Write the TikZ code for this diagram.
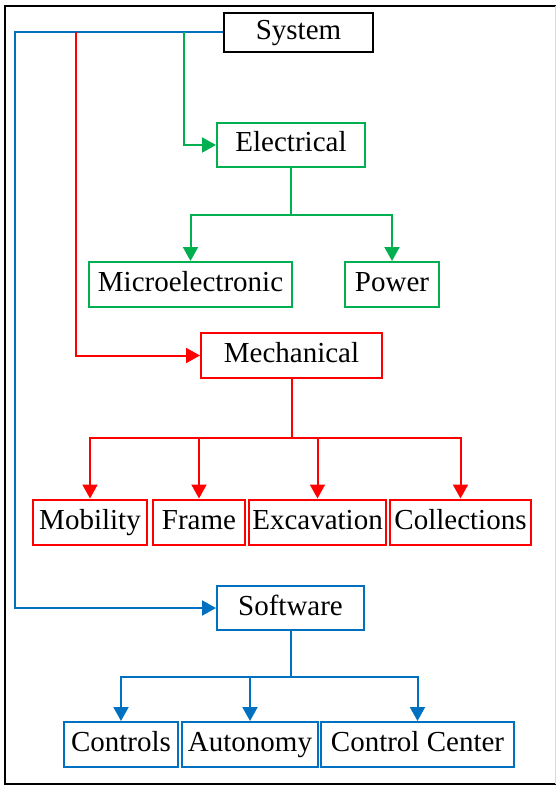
\documentclass[tikz,border=0pt]{standalone}
\usepackage{fontspec}
\newfontfamily\timesfont{Liberation Serif}
\usetikzlibrary{arrows.meta}
\definecolor{grn}{RGB}{0,176,80}
\definecolor{rd}{RGB}{255,0,0}
\definecolor{blu}{RGB}{0,112,192}
\tikzset{
box/.style={draw,line width=2pt,inner sep=0pt,minimum height=45pt,
  text height=20pt,text depth=6pt,
  font=\timesfont\fontsize{29}{34}\selectfont,text=black},
conn/.style={line width=2pt,-{Triangle[width=15pt,length=14pt]}},
trunk/.style={line width=2pt}
}

\begin{document}
\begin{tikzpicture}[x=1pt,y=-1pt]
\useasboundingbox (0,0) rectangle (556,786);
\draw [line width=2.5pt] (556,6) -- (5,6) -- (5,784) -- (556,784) ;
\draw [gray!30,line width=1pt] (555,6) -- (555,784) ;
\node [box,minimum width=149pt,minimum height=39pt] (system) at (298.5,32.5) {System};
\node [box,draw=grn,minimum width=148pt,minimum height=44pt] (electrical) at (291,145) {Electrical};
\node [box,draw=grn,minimum width=203pt] (micro) at (190.5,284.5) {Microelectronic};
\node [box,draw=grn,minimum width=94pt] (power) at (392,284.5) {Power};
\node [box,draw=rd,minimum width=181pt] (mechanical) at (291.5,355.5) {Mechanical};
\node [box,draw=rd,minimum width=114pt] (mobility) at (90,522) {Mobility};
\node [box,draw=rd,minimum width=92pt] (frame) at (199,522) {Frame};
\node [box,draw=rd,minimum width=137pt] (excavation) at (317.5,522) {Excavation};
\node [box,draw=rd,minimum width=141pt] (collections) at (460.5,522) {Collections};
\node [box,draw=blu,minimum width=147pt,minimum height=44pt] (software) at (290.5,608) {Software};
\node [box,draw=blu,minimum width=114pt] (controls) at (121,744.5) {Controls};
\node [box,draw=blu,minimum width=136pt] (autonomy) at (250,744.5) {Autonomy};
\node [box,draw=blu,minimum width=193pt] (center) at (417.5,744.5) {Control Center};
\coordinate (bluecorner) at (15,32.5) ;
\coordinate (redtap) at (76,32.5) ;
\coordinate (greentap) at (184,32.5) ;
\coordinate (elecfork) at (291,215) ;
\coordinate (mechfork) at (291.5,438) ;
\coordinate (softfork) at (290.5,677) ;
\draw [conn,blu] (system.west) -- (bluecorner) |- (software.west) ;
\draw [conn,rd] (redtap) |- (mechanical.west) ;
\draw [conn,grn] (greentap) |- (electrical.west) ;
\draw [trunk,grn] (electrical.south) -- (elecfork) ;
\draw [conn,grn] (elecfork) -| (micro.north) ;
\draw [conn,grn] (elecfork) -| (power.north) ;
\draw [trunk,rd] (mechanical.south) -- (mechfork) ;
\draw [conn,rd] (mechfork) -| (mobility.north) ;
\draw [conn,rd] (mechfork) -| (frame.north) ;
\draw [conn,rd] (mechfork) -| (excavation.north) ;
\draw [conn,rd] (mechfork) -| (collections.north) ;
\draw [trunk,blu] (software.south) -- (softfork) ;
\draw [conn,blu] (softfork) -| (controls.north) ;
\draw [conn,blu] (softfork) -| (autonomy.north) ;
\draw [conn,blu] (softfork) -| (center.north) ;
\end{tikzpicture}
\end{document}
